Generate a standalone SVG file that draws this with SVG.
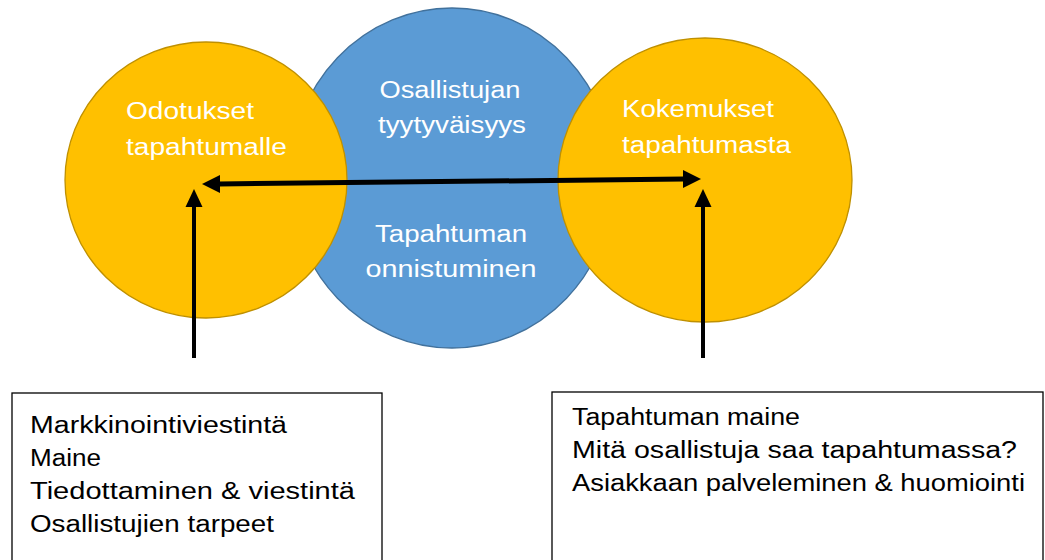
<svg xmlns="http://www.w3.org/2000/svg" width="1045" height="560" viewBox="0 0 1045 560">
<defs>
<style>
.yel{fill:#FFC000;stroke:#BF9000;stroke-width:1.3}
.blu{fill:#5B9BD5;stroke:#41719C;stroke-width:1.3}
.wt{fill:#FFFFFF;font-family:"Liberation Sans",Arial,sans-serif;font-size:23px}
.bt{fill:#000000;font-family:"Liberation Sans",Arial,sans-serif;font-size:23px}
.box{fill:#FFFFFF;stroke:#000000;stroke-width:1.3}
.arr{stroke:#000000;fill:none}
.head{fill:#000000}
</style>
</defs>
<rect width="1045" height="560" fill="#FFFFFF"/>
<g id="center">
<ellipse class="blu" cx="452" cy="178" rx="162" ry="170"/>
<text class="wt" x="450" y="98" text-anchor="middle" textLength="141" lengthAdjust="spacingAndGlyphs">Osallistujan</text>
<text class="wt" x="452" y="133" text-anchor="middle" textLength="148" lengthAdjust="spacingAndGlyphs">tyytyväisyys</text>
<text class="wt" x="451" y="242" text-anchor="middle" textLength="152" lengthAdjust="spacingAndGlyphs">Tapahtuman</text>
<text class="wt" x="451" y="277" text-anchor="middle" textLength="171" lengthAdjust="spacingAndGlyphs">onnistuminen</text>
</g>
<g id="left">
<ellipse class="yel" cx="206" cy="180" rx="141" ry="138"/>
<text class="wt" x="126" y="119" textLength="128" lengthAdjust="spacingAndGlyphs">Odotukset</text>
<text class="wt" x="126" y="155" textLength="161" lengthAdjust="spacingAndGlyphs">tapahtumalle</text>
</g>
<g id="right">
<ellipse class="yel" cx="705" cy="180" rx="147" ry="142"/>
<text class="wt" x="622" y="117" textLength="152" lengthAdjust="spacingAndGlyphs">Kokemukset</text>
<text class="wt" x="622" y="153" textLength="169" lengthAdjust="spacingAndGlyphs">tapahtumasta</text>
</g>
<g id="connectors">
<line class="arr" x1="219" y1="184" x2="684" y2="179" stroke-width="5"/>
<polygon class="head" points="202,184 220,175 220,193"/>
<polygon class="head" points="701,179 683,170 683,188"/>
<line class="arr" x1="194" y1="358" x2="194" y2="205" stroke-width="4"/>
<polygon class="head" points="194,189 185.5,207 202.5,207"/>
<line class="arr" x1="703" y1="358" x2="703" y2="205" stroke-width="4"/>
<polygon class="head" points="703,189 694.5,207 711.5,207"/>
</g>
<g id="box-left">
<rect class="box" x="12" y="393" width="370" height="175"/>
<text class="bt" x="30" y="433" textLength="257" lengthAdjust="spacingAndGlyphs">Markkinointiviestintä</text>
<text class="bt" x="30" y="466" textLength="71" lengthAdjust="spacingAndGlyphs">Maine</text>
<text class="bt" x="30" y="499" textLength="325" lengthAdjust="spacingAndGlyphs">Tiedottaminen &amp; viestintä</text>
<text class="bt" x="30" y="532" textLength="244" lengthAdjust="spacingAndGlyphs">Osallistujien tarpeet</text>
</g>
<g id="box-right">
<rect class="box" x="552" y="392" width="491" height="176"/>
<text class="bt" x="572" y="425" textLength="228" lengthAdjust="spacingAndGlyphs">Tapahtuman maine</text>
<text class="bt" x="572" y="458" textLength="445" lengthAdjust="spacingAndGlyphs">Mitä osallistuja saa tapahtumassa?</text>
<text class="bt" x="572" y="491" textLength="453" lengthAdjust="spacingAndGlyphs">Asiakkaan palveleminen &amp; huomiointi</text>
</g>
</svg>
